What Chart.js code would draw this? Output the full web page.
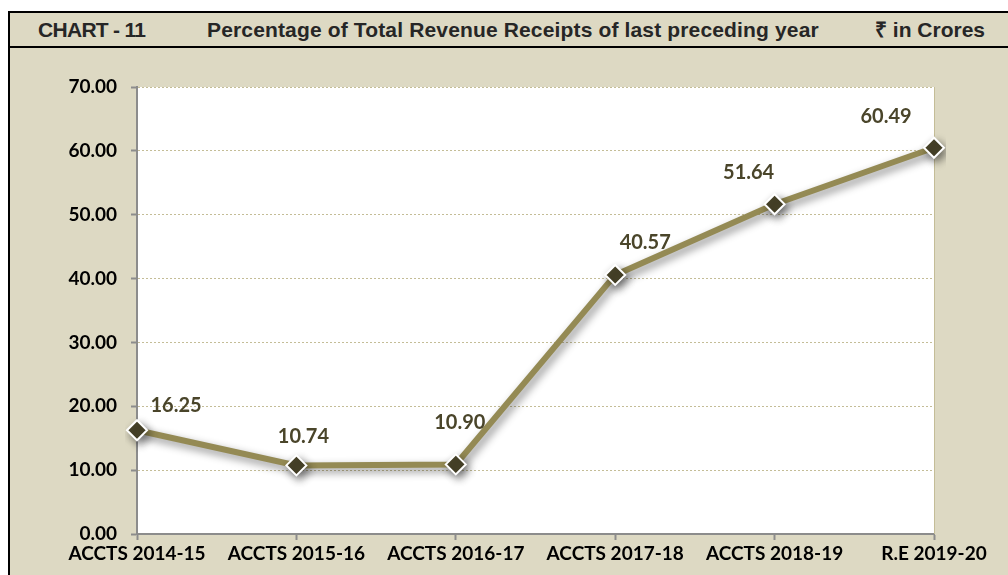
<!DOCTYPE html>
<html>
<head>
<meta charset="utf-8">
<script src="https://cdn.jsdelivr.net/npm/chart.js@4"></script>
<style>
  html, body { margin: 0; padding: 0; background: #ffffff; }
  body { width: 1008px; height: 575px; position: relative; overflow: hidden; }
  #frame {
    position: absolute; left: 8px; top: 11px; right: -4px; bottom: -4px;
    border-left: 2px solid #000; background: #DDD9C3;
  }
  #header {
    position: absolute; left: 8px; top: 11px; right: -4px; height: 33px;
    border-top: 2px solid #000; border-bottom: 2px solid #000; border-left: 2px solid #000;
    background: #DDD9C3;
    font-family: 'Liberation Sans', Arial, sans-serif;
    font-weight: bold; font-size: 21px; color: #262626;
  }
  #header span { position: absolute; top: 5px; line-height: 24px; height: 24px; white-space: nowrap; }
  #chartBox { position: absolute; left: 10px; top: 47px; width: 998px; height: 528px; }
</style>
</head>
<body>
<div id="frame"></div>
<div id="header">
  <span style="left:28px; letter-spacing:-0.7px">CHART - 11</span>
  <span style="left:197px; letter-spacing:0.15px">Percentage of Total Revenue Receipts of last preceding year</span>
  <span style="right:27px">₹ in Crores</span>
</div>
<div id="chartBox"><canvas id="c"></canvas></div>
<script>
// ─── Data ────────────────────────────────────────────────────────────────
const categories = ['ACCTS 2014-15', 'ACCTS 2015-16', 'ACCTS 2016-17', 'ACCTS 2017-18', 'ACCTS 2018-19', 'R.E 2019-20'];
const percentValues = [16.25, 10.74, 10.90, 40.57, 51.64, 60.49];
const yTicks = [0, 10, 20, 30, 40, 50, 60, 70];

const FONT = "Lato, 'Open Sans', sans-serif";

// white plot area + right edge
const plotFrame = {
    id: 'plotFrame',
    beforeDraw(chart) {
        const { ctx, chartArea: a } = chart;
        ctx.save();
        ctx.fillStyle = '#FFFFFF';
        ctx.fillRect(a.left, a.top, a.right - a.left, a.bottom - a.top);
        ctx.restore();
    },
    beforeDatasetsDraw(chart) {
        const { ctx, chartArea: a } = chart;
        ctx.save();
        ctx.strokeStyle = '#C4BD97';
        ctx.lineWidth = 1;
        ctx.beginPath();
        ctx.moveTo(a.right + 0.5, a.top);
        ctx.lineTo(a.right + 0.5, a.bottom);
        ctx.stroke();
        ctx.restore();
        // soft drop shadow under the series
        ctx.save();
        ctx.shadowColor = 'rgba(0,0,0,0.45)';
        ctx.shadowBlur = 9;
        ctx.shadowOffsetX = 3;
        ctx.shadowOffsetY = 4;
    },
    afterDatasetsDraw(chart) {
        chart.ctx.restore();
    }
};

// value labels
const valueLabels = {
    id: 'valueLabels',
    afterDatasetsDraw(chart, args, opts) {
        const { ctx } = chart;
        const meta = chart.getDatasetMeta(0);
        ctx.save();
        ctx.font = 'bold 20px ' + FONT;
        ctx.fillStyle = '#4A452A';
        ctx.textAlign = 'center';
        ctx.textBaseline = 'middle';
        meta.data.forEach((pt, i) => {
            const off = opts.offsets[i] || [0, -30];
            ctx.fillText(percentValues[i].toFixed(2), pt.x + off[0], pt.y + off[1]);
        });
        ctx.restore();
    }
};

new Chart(document.getElementById('c'), {
    type: 'line',
    data: {
        labels: categories,
        datasets: [{
            data: percentValues,
            borderColor: '#948A54',
            borderWidth: 6,
            tension: 0,
            fill: false,
            pointStyle: 'rectRot',
            pointRadius: 10,
            pointHoverRadius: 10,
            pointBackgroundColor: '#4A452A',
            pointBorderColor: '#FFFFFF',
            pointBorderWidth: 2
        }]
    },
    options: {
        responsive: true,
        maintainAspectRatio: false,
        animation: false,
        events: [],
        layout: { padding: { left: 0, right: 74, top: 40, bottom: 0 } },
        plugins: {
            legend: { display: false },
            tooltip: { enabled: false },
            valueLabels: {
                offsets: [[39, -25], [7, -29], [4, -42], [30, -32], [-26, -32], [-48, -31]]
            }
        },
        scales: {
            x: {
                offset: false,
                afterFit: s => { s.height = 41; },
                grid: {
                    drawOnChartArea: false,
                    drawTicks: true,
                    tickLength: 6,
                    tickColor: '#8C8C8C',
                    tickWidth: 2
                },
                border: { display: true, color: '#8C8C8C', width: 2 },
                ticks: {
                    color: '#000000',
                    font: { family: FONT, size: 19, weight: 'bold' },
                    padding: 2,
                    maxRotation: 0,
                    autoSkip: false
                }
            },
            y: {
                min: 0,
                max: 70,
                afterFit: s => { s.width = 127; },
                afterBuildTicks: s => { s.ticks = yTicks.map(v => ({ value: v })); },
                grid: {
                    color: '#C4BD97',
                    lineWidth: 1,
                    drawTicks: true,
                    tickLength: 6,
                    tickColor: '#8C8C8C',
                    tickWidth: 2,
                    tickBorderDash: []
                },
                border: { display: true, color: '#8C8C8C', width: 2, dash: [2, 2] },
                ticks: {
                    color: '#000000',
                    font: { family: FONT, size: 19, weight: 'bold' },
                    padding: 14,
                    callback: v => Number(v).toFixed(2)
                }
            }
        }
    },
    plugins: [plotFrame, valueLabels]
});
</script>
</body>
</html>
